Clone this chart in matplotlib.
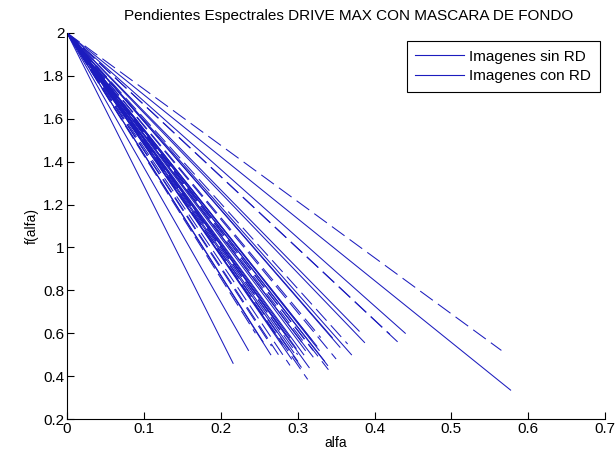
import matplotlib
matplotlib.use("Agg")
import matplotlib.pyplot as plt
from matplotlib.lines import Line2D

plt.rcParams['font.family'] = ['Liberation Sans', 'DejaVu Sans']

# start point common to all spectra
alfa_start = 0.0
f_start = 2.0

# end points of "Imagenes sin RD" (solid)
sin_alfa_end = [0.216, 0.236, 0.255, 0.265, 0.280, 0.290, 0.300, 0.310, 0.320,
                0.339, 0.345, 0.355, 0.370, 0.380, 0.387, 0.440, 0.577, 0.270,
                0.295, 0.305, 0.325, 0.335, 0.285, 0.315, 0.298, 0.308, 0.318,
                0.328, 0.292]
sin_f_end = [0.46, 0.52, 0.56, 0.50, 0.55, 0.58, 0.47, 0.52, 0.49,
             0.45, 0.58, 0.535, 0.50, 0.61, 0.557, 0.60, 0.335, 0.60,
             0.51, 0.56, 0.54, 0.47, 0.59, 0.44, 0.53, 0.50, 0.57,
             0.52, 0.48]

# end points of "Imagenes con RD" (dashed)
con_alfa_end = [0.266, 0.305, 0.313, 0.565, 0.430, 0.420, 0.290, 0.320, 0.350,
                0.245, 0.280, 0.330, 0.365, 0.300, 0.340, 0.310, 0.275]
con_f_end = [0.54, 0.44, 0.385, 0.52, 0.56, 0.595, 0.45, 0.52, 0.48,
             0.60, 0.60, 0.58, 0.55, 0.50, 0.43, 0.55, 0.50]

color = '#1c1cbe'

fig = plt.figure(figsize=(6.15, 4.57), dpi=100)
ax = fig.add_axes([0.109, 0.083, 0.875, 0.845])

for a, f in zip(sin_alfa_end, sin_f_end):
    ax.plot([alfa_start, a], [f_start, f], color=color, lw=0.75)
for a, f in zip(con_alfa_end, con_f_end):
    ax.plot([alfa_start, a], [f_start, f], color=color, lw=0.75,
            dashes=(15, 6))

ax.set_xlim(0, 0.7)
ax.set_ylim(0.2, 2.0)
ax.set_xticks([0, 0.1, 0.2, 0.3, 0.4, 0.5, 0.6, 0.7])
ax.set_xticklabels(['0', '0.1', '0.2', '0.3', '0.4', '0.5', '0.6', '0.7'])
ax.set_yticks([0.2, 0.4, 0.6, 0.8, 1.0, 1.2, 1.4, 1.6, 1.8, 2.0])
ax.set_yticklabels(['0.2', '0.4', '0.6', '0.8', '1', '1.2', '1.4', '1.6', '1.8', '2'])
ax.tick_params(direction='in', length=5, width=0.8, labelsize=11, pad=2)
ax.spines['top'].set_visible(False)
ax.spines['right'].set_visible(False)
ax.set_xlabel('alfa', fontsize=10, labelpad=0)
ax.set_ylabel('f(alfa)', fontsize=10, labelpad=3)
ax.set_title('Pendientes Espectrales DRIVE MAX CON MASCARA DE FONDO', fontsize=11,
             pad=9, x=0.524)

labels = ['Imagenes sin RD', 'Imagenes con RD']
h = [Line2D([], [], color=color, lw=0.8), Line2D([], [], color=color, lw=0.8)]
leg = ax.legend(h, labels, loc='upper right', bbox_to_anchor=(0.998, 0.99),
                fontsize=11, frameon=True, fancybox=False, edgecolor='black',
                framealpha=1, handlelength=3.2, borderpad=0.55, labelspacing=0.35,
                handletextpad=0.35, borderaxespad=0.3)
leg.get_frame().set_linewidth(0.8)

fig.savefig('out.png', dpi=100)
